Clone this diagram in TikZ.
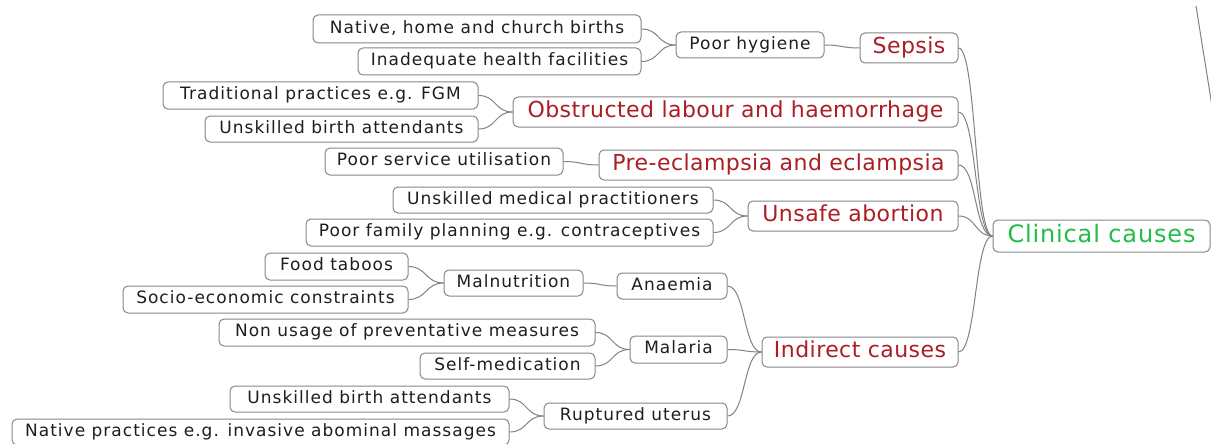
\documentclass[tikz,border=0pt]{standalone}
\usepackage{fontspec}
\setmainfont{DejaVu Sans}
\newfontfamily\leaffont[LetterSpace=6]{DejaVu Sans}
\newfontfamily\causefont[LetterSpace=2]{DejaVu Sans}
\newfontfamily\rootfont[LetterSpace=3.5]{DejaVu Sans}

\definecolor{boxgray}{RGB}{135,135,135}
\definecolor{linkgray}{RGB}{130,130,130}
\definecolor{leafgray}{RGB}{30,30,30}
\definecolor{causered}{RGB}{172,30,36}
\definecolor{rootgreen}{RGB}{34,188,72}

\tikzset{
  box/.style={draw=boxgray, line width=1pt, rounded corners=5pt, fill=white,
    inner xsep=1pt, inner ysep=0pt, align=center},
  leaf/.style={box, font=\leaffont\fontsize{17}{20}\selectfont, text=leafgray,
    text height=12.9pt, text depth=4.1pt},
  cause/.style={box, font=\causefont\fontsize{22}{26}\selectfont, text=causered,
    text height=16.7pt, text depth=5.3pt},
  root/.style={box, font=\rootfont\fontsize{24}{28}\selectfont, text=rootgreen,
    text height=18.2pt, text depth=5.8pt},
  link/.style={draw=linkgray, line width=1pt},
}

\begin{document}
\begin{tikzpicture}[x=1pt, y=-1pt]
  \fill[white] (0,0) rectangle (1211,444);
  \useasboundingbox (0,0) rectangle (1211,444);

  % root
  \node[root, minimum width=217pt, minimum height=32pt] (cli) at (1101.5,236) {Clinical causes};

  % sepsis branch
  \node[cause, minimum width=98pt, minimum height=30pt] (sep) at (909,48) {Sepsis};
  \node[leaf, minimum width=148pt, minimum height=26pt] (hyg) at (750,45) {Poor hygiene};
  \node[leaf, minimum width=328pt, minimum height=28pt] (nb1) at (477,29) {Native, home and church births};
  \node[leaf, minimum width=283pt, minimum height=27pt] (nb2) at (499.5,61.5) {Inadequate health facilities};

  % obstructed labour branch
  \node[cause, minimum width=445pt, minimum height=30pt] (obs) at (735.5,112) {Obstructed labour and haemorrhage};
  \node[leaf, minimum width=315pt, minimum height=27pt] (fgm) at (320.5,95.5) {Traditional practices e.g. FGM};
  \node[leaf, minimum width=273pt, minimum height=26pt] (usb) at (341.5,129) {Unskilled birth attendants};

  % pre-eclampsia branch
  \node[cause, minimum width=359pt, minimum height=30pt] (pre) at (778.5,165) {Pre-eclampsia and eclampsia};
  \node[leaf, minimum width=238pt, minimum height=27pt] (psu) at (444,161.5) {Poor service utilisation};

  % unsafe abortion branch
  \node[cause, minimum width=210pt, minimum height=30pt] (usa) at (853,216) {Unsafe abortion};
  \node[leaf, minimum width=320pt, minimum height=26pt] (ump) at (553,200) {Unskilled medical practitioners};
  \node[leaf, minimum width=407pt, minimum height=27pt] (pfp) at (509.5,232.5) {Poor family planning e.g. contraceptives};

  % indirect causes branch
  \node[cause, minimum width=196pt, minimum height=30pt] (ind) at (860,352) {Indirect causes};
  \node[leaf, minimum width=110pt, minimum height=26pt] (ana) at (672,286) {Anaemia};
  \node[leaf, minimum width=139pt, minimum height=26pt] (mal) at (513.5,283) {Malnutrition};
  \node[leaf, minimum width=143pt, minimum height=27pt] (ft) at (336.5,266.5) {Food taboos};
  \node[leaf, minimum width=285pt, minimum height=27pt] (sec) at (265.5,299.5) {Socio-economic constraints};
  \node[leaf, minimum width=97pt, minimum height=27pt] (mla) at (678.5,349.5) {Malaria};
  \node[leaf, minimum width=376pt, minimum height=27pt] (nup) at (407,332.5) {Non usage of preventative measures};
  \node[leaf, minimum width=175pt, minimum height=26pt] (smd) at (507.5,366) {Self-medication};
  \node[leaf, minimum width=183pt, minimum height=26pt] (ruu) at (635.5,416) {Ruptured uterus};
  \node[leaf, minimum width=279pt, minimum height=26pt] (usb2) at (369.5,399) {Unskilled birth attendants};
  \node[leaf, minimum width=497pt, minimum height=26pt] (npe) at (260.5,432) {Native practices e.g. invasive abominal massages};

  % connectors: child east to parent west
  \foreach \c/\p in {nb1/hyg, nb2/hyg, hyg/sep, fgm/obs, usb/obs, psu/pre,
                     ump/usa, pfp/usa, ft/mal, sec/mal, mal/ana,
                     nup/mla, smd/mla, usb2/ruu, npe/ruu,
                     ana/ind, mla/ind, ruu/ind,
                     sep/cli, obs/cli, pre/cli, usa/cli, ind/cli}
    \draw[link] (\c.east) .. controls +(18,0) and +(-18,0) .. (\p.west);

  % edge of a branch leaving the frame at the top right
  \coordinate (e1) at (1196,6);
  \coordinate (e2) at (1212,106);
  \draw[link] (e1) -- (e2);
\end{tikzpicture}
\end{document}
